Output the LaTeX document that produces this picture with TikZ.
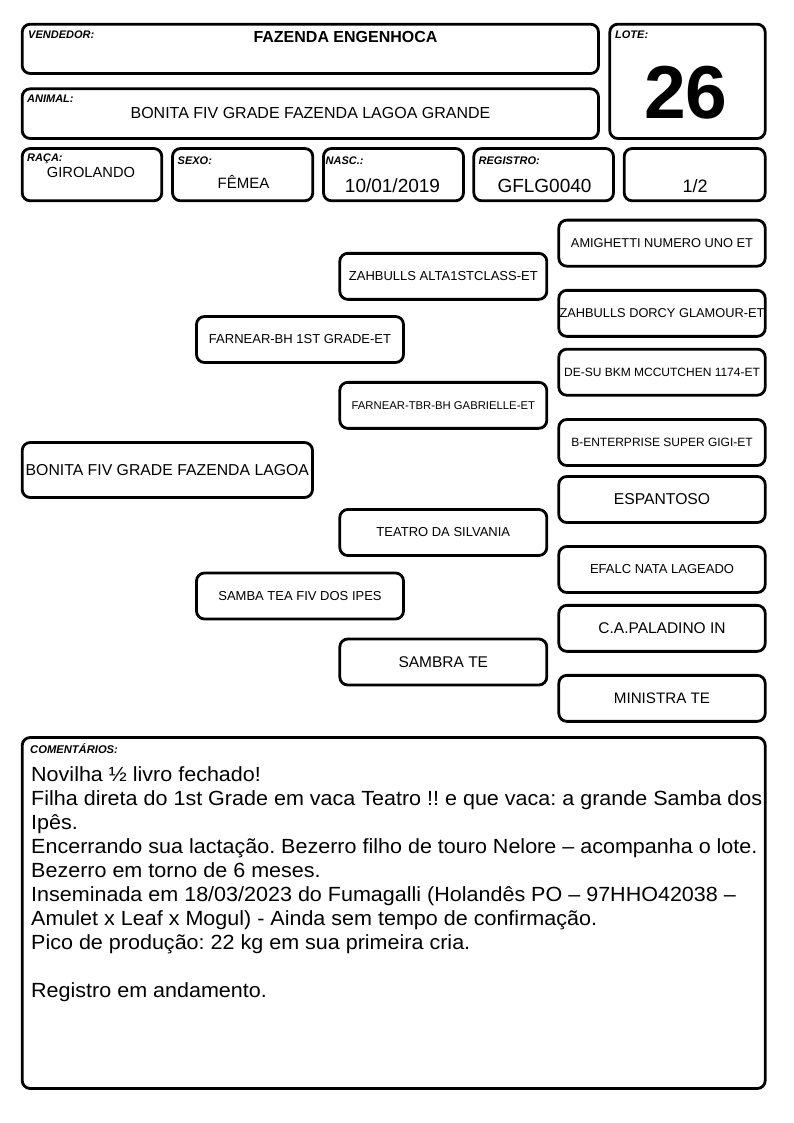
\documentclass[tikz,border=0pt]{standalone}
\usepackage{fontspec}
\setmainfont{Liberation Sans}
\newfontfamily\cmtfont[FakeStretch=1.05]{Liberation Sans}
\frenchspacing
\newcommand\fs[1]{\fontsize{#1}{#1}\selectfont}
\tikzset{
  bx/.style={draw=black, line width=2.8pt, rounded corners=8pt, inner sep=0pt, outer sep=0pt, align=center},
  lab/.style={font=\fs{11}\bfseries\itshape, anchor=base west, inner sep=0pt},
  val/.style={anchor=base, inner sep=0pt},
  colfour/.style={bx, minimum width=206.4pt, minimum height=46pt},
  colthree/.style={bx, minimum width=207pt, minimum height=46pt},
  coltwo/.style={bx, minimum width=207pt, minimum height=46pt},
  cmtline/.style={anchor=base west, inner sep=0pt, font=\cmtfont\fs{20.5}},
}
\begin{document}
\begin{tikzpicture}[x=1pt, y=-1pt]
\useasboundingbox (0,0) rectangle (794,1123);
% header boxes
\node[bx, minimum width=576.3pt, minimum height=49.3pt] (vend) at (310.35,48.85) {};
\node[bx, minimum width=576.3pt, minimum height=49.7pt] (anim) at (310.35,113.65) {};
\node[bx, minimum width=155.4pt, minimum height=114.3pt] (lote) at (687.5,81.35) {};
\node[bx, minimum width=139.6pt, minimum height=52.3pt] (raca) at (92,174.65) {};
\node[bx, minimum width=140.3pt, minimum height=52.3pt] (sexo) at (242.65,174.65) {};
\node[bx, minimum width=140pt, minimum height=52.3pt] (nasc) at (393.5,174.65) {};
\node[bx, minimum width=139.7pt, minimum height=52.3pt] (regi) at (543.65,174.65) {};
\node[bx, minimum width=141pt, minimum height=52.3pt] (part) at (694.7,174.65) {};
% header labels and values
\node[lab] (lvend) at (28,39) {VENDEDOR:};
\node[val, font=\fs{16}\bfseries] (tvend) at (345.5,43) {FAZENDA ENGENHOCA};
\node[lab] (lanim) at (27,103) {ANIMAL:};
\node[val, font=\fs{16}] (tanim) at (310.5,119) {BONITA FIV GRADE FAZENDA LAGOA GRANDE};
\node[lab] (llote) at (615,39) {LOTE:};
\node[val, font=\fs{75}\bfseries] (tlote) at (686,119) {26};
\node[lab] (lraca) at (27,162) {RAÇA:};
\node[val, font=\fs{14.67}] (traca) at (91,178) {GIROLANDO};
\node[lab] (lsexo) at (177.5,165) {SEXO:};
\node[val, font=\fs{15}] (tsexo) at (243.5,189) {FÊMEA};
\node[lab] (lnasc) at (325.5,165) {NASC.:};
\node[val, font=\fs{19}] (tnasc) at (392.5,193) {10/01/2019};
\node[lab] (lregi) at (478.5,165) {REGISTRO:};
\node[val, font=\fs{19}] (tregi) at (544.5,193) {GFLG0040};
\node[val, font=\fs{18}] (tpart) at (695,193) {1/2};
% pedigree
\node[bx, minimum width=290.3pt, minimum height=55pt, font=\fs{15.8}] (p1) at (167.35,470) {BONITA FIV GRADE FAZENDA LAGOA};
\node[coltwo, font=\fs{13}] (p2a) at (300,339.5) {FARNEAR-BH 1ST GRADE-ET};
\node[coltwo, font=\fs{13}] (p2b) at (300,596) {SAMBA TEA FIV DOS IPES};
\node[colthree, font=\fs{13}] (p3a) at (443.3,276.35) {ZAHBULLS ALTA1STCLASS-ET};
\node[colthree, font=\fs{11.3}] (p3b) at (443.3,405.35) {FARNEAR-TBR-BH GABRIELLE-ET};
\node[colthree, font=\fs{13}] (p3c) at (443.3,532.5) {TEATRO DA SILVANIA};
\node[colthree, font=\fs{15.5}] (p3d) at (443.3,662) {SAMBRA TE};
\node[colfour, font=\fs{12.8}] (p4a) at (662,243.15) {AMIGHETTI NUMERO UNO ET};
\node[colfour, font=\fs{12.8}] (p4b) at (662,313.35) {ZAHBULLS DORCY GLAMOUR-ET};
\node[colfour, font=\fs{12}] (p4c) at (662,372.2) {DE-SU BKM MCCUTCHEN 1174-ET};
\node[colfour, font=\fs{12}] (p4d) at (662,442.5) {B-ENTERPRISE SUPER GIGI-ET};
\node[colfour, font=\fs{15.7}] (p4e) at (662,499.5) {ESPANTOSO};
\node[colfour, font=\fs{13}] (p4f) at (662,569.5) {EFALC NATA LAGEADO};
\node[colfour, font=\fs{15.5}] (p4g) at (662,628.35) {C.A.PALADINO IN};
\node[colfour, font=\fs{15.2}] (p4h) at (662,698.35) {MINISTRA TE};
% comments
\node[bx, minimum width=743pt, minimum height=351pt] (coment) at (393.7,913) {};
\node[lab, font=\fs{11.2}\bfseries\itshape] (lcom) at (30,753) {COMENTÁRIOS:};
\node[cmtline] (k1) at (31,781) {Novilha ½ livro fechado!};
\node[cmtline] (k2) at (31,805) {Filha direta do 1st Grade em vaca Teatro !! e que vaca: a grande Samba dos};
\node[cmtline] (k3) at (31,829) {Ipês.};
\node[cmtline] (k4) at (31,853) {Encerrando sua lactação. Bezerro filho de touro Nelore – acompanha o lote.};
\node[cmtline] (k5) at (31,877) {Bezerro em torno de 6 meses.};
\node[cmtline] (k6) at (31,901) {Inseminada em 18/03/2023 do Fumagalli (Holandês PO – 97HHO42038 –};
\node[cmtline] (k7) at (31,925) {Amulet x Leaf x Mogul) - Ainda sem tempo de confirmação.};
\node[cmtline] (k8) at (31,949) {Pico de produção: 22 kg em sua primeira cria.};
\node[cmtline] (k9) at (31,997) {Registro em andamento.};
\end{tikzpicture}
\end{document}
